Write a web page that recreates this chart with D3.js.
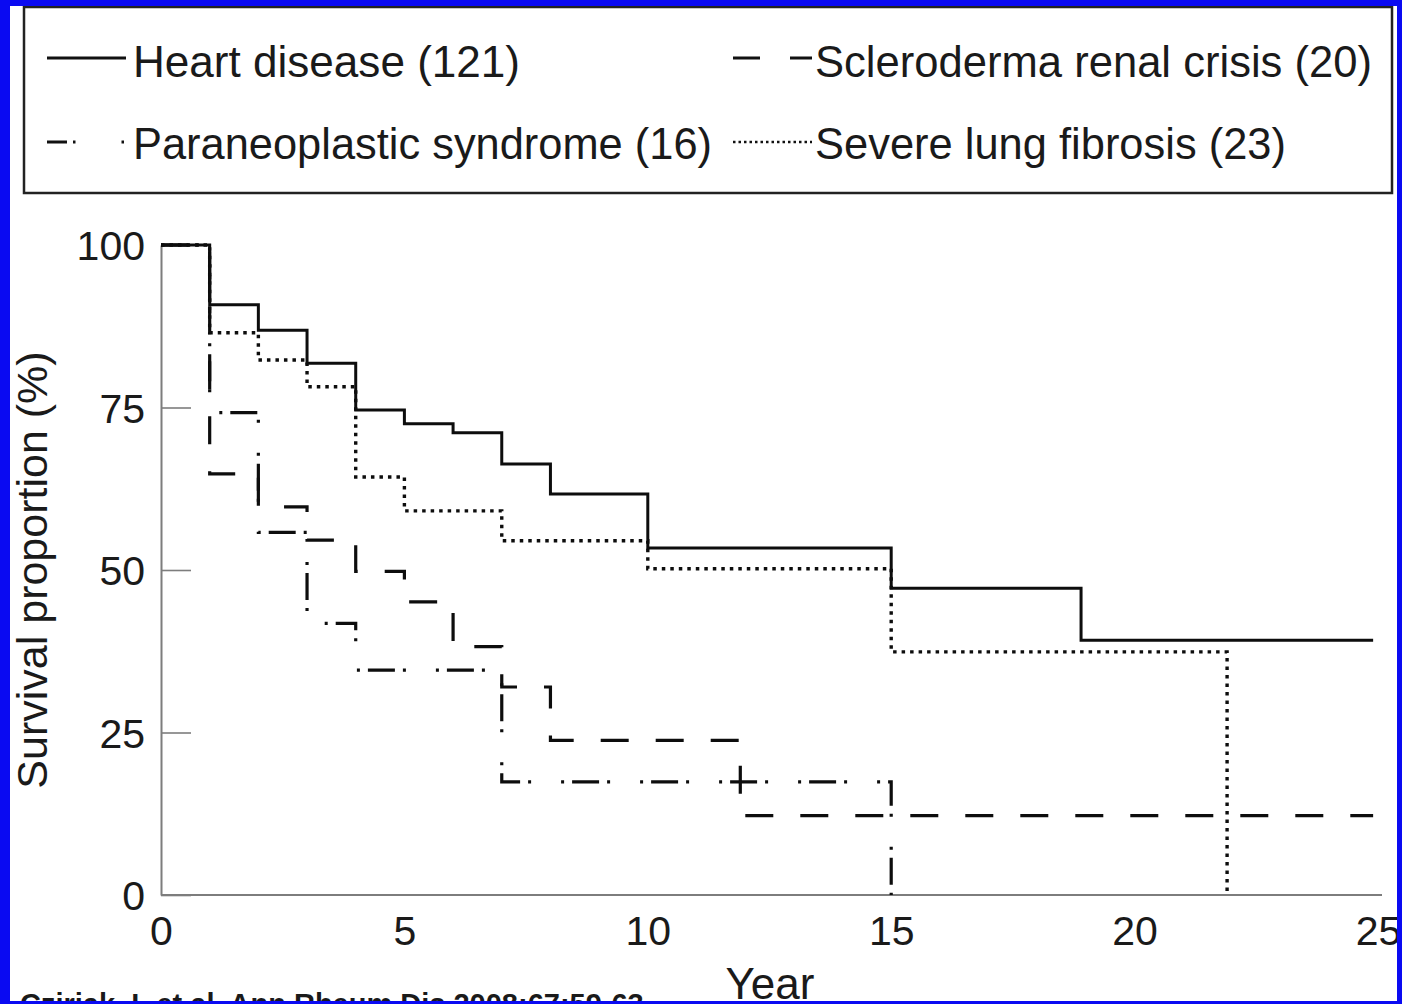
<!DOCTYPE html>
<html>
<head>
<meta charset="utf-8">
<script src="https://cdn.jsdelivr.net/npm/d3@7"></script>
<style>
  html, body { margin: 0; padding: 0; background: #ffffff; }
  svg { display: block; }
  text { font-family: "Liberation Sans", Arial, sans-serif; fill: #1a1a1a; }
</style>
</head>
<body>
<svg id="chart" width="1402" height="1004"></svg>
<script>
// ---------------- DATA ----------------
const seriesNames = ["Heart disease (121)", "Scleroderma renal crisis (20)", "Paraneoplastic syndrome (16)", "Severe lung fibrosis (23)"];

const heartYears = [0, 1, 2, 3, 4, 5, 6, 7, 8, 10, 15, 18.9, 24.9];
const heartSurv  = [100, 90.8, 86.9, 81.8, 74.6, 72.5, 71.1, 66.3, 61.7, 53.4, 47.2, 39.2, 39.2];

const scleroYears = [0, 1, 2, 3, 4, 5, 6, 7, 8, 11.9, 24.9];
const scleroSurv  = [100, 64.8, 59.7, 54.6, 49.8, 45.1, 38.2, 32.0, 23.8, 12.2, 12.2];

const paraYears = [0, 1, 2, 3, 4, 7, 15];
const paraSurv  = [100, 74.2, 55.8, 41.8, 34.6, 17.4, 0];

const lungYears = [0, 1, 2, 3, 4, 5, 7, 10, 15, 21.9];
const lungSurv  = [100, 86.5, 82.3, 78.2, 64.3, 59.1, 54.5, 50.2, 37.4, 0];

const xTicks = [0, 5, 10, 15, 20, 25];
const yTicks = [0, 25, 50, 75, 100];

const xTitle = "Year";
const yTitle = "Survival proportion (%)";
const citation = "Czirjak, L et al. Ann Rheum Dis 2008;67:59-63";

// ---------------- DRAW ----------------
const svg = d3.select("#chart");
const W = 1402, H = 1004;

svg.append("rect").attr("x", 0).attr("y", 0).attr("width", W).attr("height", H).attr("fill", "#ffffff");

const x = d3.scaleLinear().domain([0, 25]).range([161, 1378]);
const y = d3.scaleLinear().domain([0, 100]).range([895, 245]);

const axisColor = "#7d7d7d";

// Y axis
const yAxis = svg.append("g").attr("transform", `translate(${x(0)},0)`)
  .call(d3.axisLeft(y).tickValues(yTicks).tickSizeInner(-30).tickSizeOuter(0).tickPadding(16));
yAxis.select(".domain").attr("stroke", axisColor).attr("stroke-width", 2);
yAxis.selectAll(".tick line").attr("stroke", axisColor).attr("stroke-width", 1.6);
yAxis.selectAll(".tick text").attr("font-size", 41).attr("font-family", '"Liberation Sans", Arial, sans-serif').attr("fill", "#1a1a1a").attr("dy", "0.36em");

// X axis
const xAxis = svg.append("g").attr("transform", `translate(0,${y(0)})`)
  .call(d3.axisBottom(x).tickValues(xTicks).tickSize(0).tickPadding(21));
xAxis.select(".domain").attr("stroke", axisColor).attr("stroke-width", 2)
  .attr("d", `M${x(0)},0H${x(25) + 4}`);
xAxis.selectAll(".tick text").attr("font-size", 41).attr("font-family", '"Liberation Sans", Arial, sans-serif').attr("fill", "#1a1a1a");

// Curves
const line = d3.line().x(d => x(d[0])).y(d => y(d[1])).curve(d3.curveStepAfter);
const zip = (a, b) => a.map((v, i) => [v, b[i]]);

const curves = [
  { data: zip(lungYears, lungSurv), dash: "3.5,5", width: 3.4 },
  { data: zip(paraYears, paraSurv), dash: "27,8,3,30,3,8", width: 3.2 },
  { data: zip(scleroYears, scleroSurv), dash: "28,27", width: 3.2 },
  { data: zip(heartYears, heartSurv), dash: null, width: 3 }
];

curves.forEach(c => {
  svg.append("path")
    .attr("d", line(c.data))
    .attr("fill", "none")
    .attr("stroke", "#0d0d0d")
    .attr("stroke-width", c.width)
    .attr("stroke-dasharray", c.dash);
});

// Axis titles
svg.append("text")
  .attr("transform", `translate(47,570) rotate(-90)`)
  .attr("text-anchor", "middle")
  .attr("font-size", 43)
  .text(yTitle);

svg.append("text")
  .attr("x", 770).attr("y", 999)
  .attr("text-anchor", "middle")
  .attr("font-size", 44)
  .text(xTitle);

// Legend box
svg.append("rect")
  .attr("x", 24).attr("y", 7).attr("width", 1368).attr("height", 186)
  .attr("fill", "#ffffff").attr("stroke", "#222").attr("stroke-width", 2.5);

const legendItems = [
  { name: seriesNames[0], lx1: 47, lx2: 126, ly: 58, tx: 133, ty: 77, tw: 387, dash: null, width: 3 },
  { name: seriesNames[1], lx1: 733, lx2: 812, ly: 58, tx: 815, ty: 77, tw: 557, dash: "27,30,22", width: 2.8 },
  { name: seriesNames[2], lx1: 47, lx2: 127, ly: 142, tx: 133, ty: 159, tw: 579, dash: "20,6,2.5,46,2.5,20", width: 2.8 },
  { name: seriesNames[3], lx1: 733, lx2: 812, ly: 142, tx: 815, ty: 159, tw: 471, dash: "2.5,3", width: 2.6 }
];

legendItems.forEach(it => {
  svg.append("line")
    .attr("x1", it.lx1).attr("x2", it.lx2).attr("y1", it.ly).attr("y2", it.ly)
    .attr("stroke", "#111").attr("stroke-width", it.width)
    .attr("stroke-dasharray", it.dash);
  svg.append("text")
    .attr("x", it.tx).attr("y", it.ty)
    .attr("font-size", 44)
    .attr("textLength", it.tw)
    .attr("lengthAdjust", "spacingAndGlyphs")
    .text(it.name);
});

// Citation (partly hidden by the frame, as in the reference)
svg.append("text")
  .attr("x", 20).attr("y", 1014)
  .attr("font-size", 29).attr("font-weight", "bold")
  .attr("fill", "#111")
  .text(citation);

// Blue frame
const frameColor = "#0a0af2";
svg.append("rect").attr("x", 0).attr("y", 0).attr("width", 10).attr("height", H).attr("fill", frameColor);
svg.append("rect").attr("x", 0).attr("y", 0).attr("width", W).attr("height", 6).attr("fill", frameColor);
svg.append("rect").attr("x", 1397).attr("y", 0).attr("width", 5).attr("height", H).attr("fill", frameColor);
svg.append("rect").attr("x", 0).attr("y", 1001).attr("width", W).attr("height", 3).attr("fill", frameColor);
</script>
</body>
</html>
